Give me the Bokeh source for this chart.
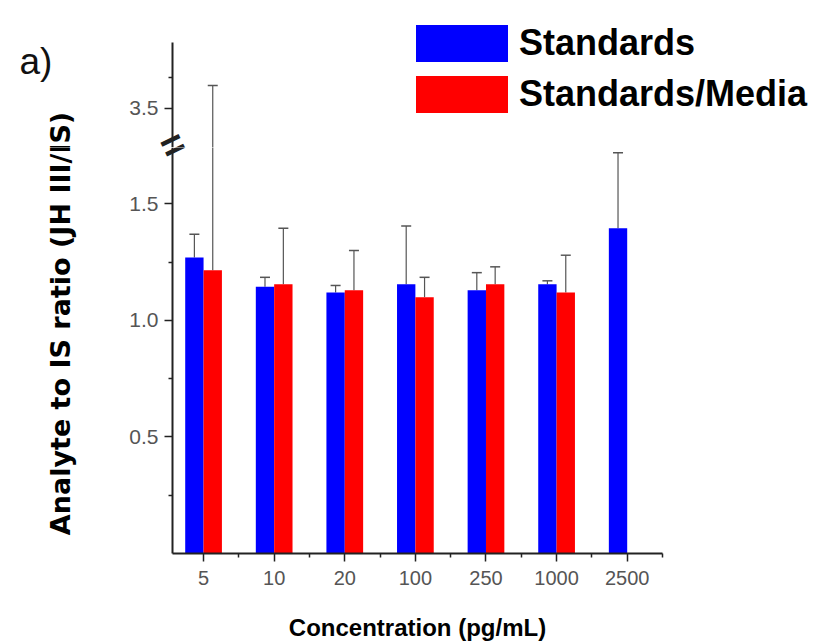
import numpy as np
from bokeh.plotting import figure
from bokeh.layouts import column
from bokeh.models import (ColumnDataSource, Range1d, FixedTicker, Whisker, TeeHead,
                          Legend, LegendItem, Label, PrintfTickFormatter)
from bokeh.transform import dodge
from bokeh.embed import file_html
from bokeh.resources import INLINE

# ---------------- data ----------------
concentrations = ["5", "10", "20", "100", "250", "1000", "2500"]
standards_mean = [1.27, 1.145, 1.12, 1.155, 1.13, 1.155, 1.395]
standards_err = [0.10, 0.04, 0.03, 0.25, 0.075, 0.015, 0.325]
media_mean = [1.215, 1.155, 1.13, 1.10, 1.155, 1.12, None]
media_err = [2.47, 0.24, 0.17, 0.085, 0.075, 0.16, None]

lower_ticks = [0.5, 1.0, 1.5]
lower_minor = [0.25, 0.75, 1.25]
upper_ticks = [3.5]
upper_minor = [3.75]

lower_bounds = (0.0, 1.742)     # lower axis segment
upper_bounds = (3.185, 4.03)    # upper axis segment (after the break)

BLUE = "#0000ff"
RED = "#ff0000"
ERR = "#555555"
AX = "#222222"
FONT = "Liberation Sans"

pos = list(range(1, len(concentrations) + 1))
std_src = ColumnDataSource(dict(
    pos=pos, mean=standards_mean,
    upper=[m + e for m, e in zip(standards_mean, standards_err)]))
mi = [i for i, m in enumerate(media_mean) if m is not None]
med_src = ColumnDataSource(dict(
    pos=[pos[i] for i in mi], mean=[media_mean[i] for i in mi],
    upper=[media_mean[i] + media_err[i] for i in mi]))

# ---------------- layout geometry (pixels) ----------------
W = 815
FRAME_L = 16          # left edge of both frames
AXIS_X = 172          # y axis position
AXIS_R = 662          # end of x axis
BREAK_Y = 147         # join of the two panels
BOTTOM_Y = 553        # x axis position
TOTAL_H = 642
X_LO, X_HI = 0.56, 7.5
pxx = (AXIS_R - AXIS_X) / (X_HI - X_LO)
xr = Range1d(X_LO - (AXIS_X - FRAME_L) / pxx, X_LO + (W - AXIS_X) / pxx)

upper_pxy = 124.0
up_range = Range1d(upper_bounds[0], upper_bounds[0] + BREAK_Y / upper_pxy)
lower_pxy = (BOTTOM_Y - BREAK_Y) / (lower_bounds[1] - lower_bounds[0])
low_range = Range1d(lower_bounds[0] - (TOTAL_H - BOTTOM_Y) / lower_pxy, lower_bounds[1])


def style_y(p, ticks, minor, bounds):
    ax = p.yaxis[0]
    ax.fixed_location = X_LO
    ax.bounds = bounds
    ax.ticker = FixedTicker(ticks=ticks, minor_ticks=minor)
    ax.formatter = PrintfTickFormatter(format="%.1f")
    ax.axis_line_width = 2
    ax.axis_line_color = AX
    ax.major_tick_line_color = AX
    ax.minor_tick_line_color = AX
    ax.major_tick_line_width = 1.5
    ax.minor_tick_line_width = 1.5
    ax.major_tick_in = 0
    ax.major_tick_out = 8
    ax.minor_tick_in = 0
    ax.minor_tick_out = 4
    ax.major_label_standoff = 6
    ax.major_label_text_font = FONT
    ax.major_label_text_font_size = "21px"
    ax.major_label_text_color = "#555555"


def base_fig(height, yr, xloc):
    p = figure(width=W, height=height, x_range=xr, y_range=yr,
               output_backend="svg", toolbar_location=None, title=None,
               x_axis_location=xloc,
               min_border_left=FRAME_L, min_border_right=0,
               min_border_top=0, min_border_bottom=0)
    p.outline_line_color = None
    p.xgrid.visible = False
    p.ygrid.visible = False
    p.background_fill_color = "white"
    p.border_fill_color = "white"
    return p


def add_data(p):
    rb = p.vbar(x=dodge("pos", -0.13), top="mean", bottom=0, width=0.26,
                source=std_src, fill_color=BLUE, line_color=None)
    rr = p.vbar(x=dodge("pos", 0.13), top="mean", bottom=0, width=0.26,
                source=med_src, fill_color=RED, line_color=None)
    for src, off in ((std_src, -0.13), (med_src, 0.13)):
        p.add_layout(Whisker(source=src, base=dodge("pos", off), lower="mean",
                             upper="upper", dimension="height",
                             line_color=ERR, line_width=1.2,
                             upper_head=TeeHead(size=10, line_color=ERR, line_width=1.5),
                             lower_head=None))
    return rb, rr


def ylabel(p, y, yoff):
    p.add_layout(Label(x=X_LO, y=y, x_offset=-112, y_offset=yoff, angle=np.pi / 2,
                       text="Analyte to IS ratio (JH III/IS)", text_align="center",
                       text_baseline="middle", text_font="DejaVu Sans",
                       text_font_size="27px", text_font_style="bold",
                       text_color="#000000"))


def break_mark(p, y):
    p.add_layout(Label(x=X_LO, y=y, y_offset=3, text="=", angle=0.45,
                       text_align="center", text_baseline="middle", text_font=FONT,
                       text_font_size="40px", text_font_style="bold", text_color=AX))


# ---------------- upper segment ----------------
pu = base_fig(BREAK_Y, up_range, None)
ub, ur = add_data(pu)
style_y(pu, upper_ticks, upper_minor, upper_bounds)

legend = Legend(items=[LegendItem(label="Standards", renderers=[ub]),
                       LegendItem(label="Standards/Media", renderers=[ur])],
                location=(404 - FRAME_L, BREAK_Y - 117), glyph_width=115, glyph_height=46,
                spacing=5, label_standoff=0, padding=0, margin=0,
                border_line_color=None, background_fill_alpha=0,
                label_text_font=FONT, label_text_font_size="36px",
                label_text_font_style="bold", label_text_color="#000000",
                label_height=46)
pu.add_layout(legend)

pu.add_layout(Label(x=X_LO, y=upper_bounds[1], x_offset=-153, y_offset=-19,
                    text="a)", text_align="left", text_baseline="middle",
                    text_font=FONT, text_font_size="37px", text_color="#111111"))

# ---------------- lower segment ----------------
pl = base_fig(TOTAL_H - BREAK_Y, low_range, "below")
add_data(pl)
style_y(pl, lower_ticks, lower_minor, lower_bounds)

xa = pl.xaxis[0]
xa.fixed_location = lower_bounds[0]
xa.bounds = (X_LO, X_HI)
xa.ticker = FixedTicker(ticks=pos, minor_ticks=[p + 0.5 for p in pos])
xa.major_label_overrides = {p: c for p, c in zip(pos, concentrations)}
xa.axis_line_width = 2
xa.axis_line_color = AX
xa.major_tick_line_color = AX
xa.minor_tick_line_color = AX
xa.major_tick_line_width = 1.5
xa.minor_tick_line_width = 1.5
xa.major_tick_in = 0
xa.major_tick_out = 8
xa.minor_tick_in = 0
xa.minor_tick_out = 4
xa.major_label_standoff = 9
xa.major_label_text_font = FONT
xa.major_label_text_font_size = "20px"
xa.major_label_text_color = "#555555"
xa.axis_label = "Concentration (pg/mL)"
xa.axis_label_text_font = FONT
xa.axis_label_text_font_size = "24px"
xa.axis_label_text_font_style = "bold"
xa.axis_label_text_color = "#000000"
xa.axis_label_standoff = 26

# y axis title, drawn in both panels so it runs across the break
label_center = (BOTTOM_Y - 323) / lower_pxy
ylabel(pl, label_center, 0)
ylabel(pu, upper_bounds[0], -(323 - BREAK_Y))

# axis break marks (half drawn in each panel)
break_mark(pl, lower_bounds[1])
break_mark(pu, upper_bounds[0])

layout = column(pu, pl, spacing=0)
open("out.html", "w").write(file_html(layout, INLINE))
